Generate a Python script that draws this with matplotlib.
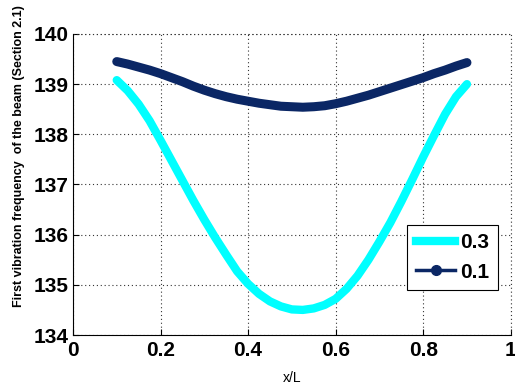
import matplotlib.pyplot as plt
from matplotlib.lines import Line2D

# data
x = [0.100, 0.125, 0.150, 0.175, 0.200, 0.225, 0.250, 0.275, 0.300,
     0.325, 0.350, 0.375, 0.400, 0.425, 0.450, 0.475, 0.500, 0.525,
     0.550, 0.575, 0.600, 0.625, 0.650, 0.675, 0.700, 0.725, 0.750,
     0.775, 0.800, 0.825, 0.850, 0.875, 0.900]
f_03 = [139.08, 138.87, 138.60, 138.27, 137.88, 137.48, 137.08, 136.68, 136.30,
        135.94, 135.60, 135.27, 135.02, 134.82, 134.67, 134.57, 134.51, 134.50,
        134.53, 134.60, 134.72, 134.92, 135.18, 135.50, 135.86, 136.24, 136.66,
        137.10, 137.55, 137.98, 138.40, 138.75, 139.00]
f_01 = [139.45, 139.40, 139.34, 139.28, 139.21, 139.13, 139.05, 138.96, 138.88,
        138.81, 138.75, 138.70, 138.66, 138.62, 138.59, 138.56, 138.55, 138.54,
        138.55, 138.57, 138.61, 138.66, 138.72, 138.78, 138.85, 138.92, 138.99,
        139.06, 139.13, 139.21, 139.28, 139.36, 139.43]
labels = ["0.3", "0.1"]

cyan = '#00ffff'
navy = '#0b2765'
grid_style = dict(linestyle=(0, (1, 2.5)), color='#333333', linewidth=0.8)

plt.rcParams['font.family'] = ['Liberation Sans', 'DejaVu Sans']

fig = plt.figure(figsize=(5.15, 3.84), dpi=100)
ax = fig.add_axes([0.1417, 0.1276, 0.85, 0.7839])

ax.plot(x, f_03, color=cyan, linewidth=6, solid_capstyle='round',
        solid_joinstyle='round')
ax.plot(x, f_01, color=navy, linewidth=6.5, solid_capstyle='round',
        solid_joinstyle='round')

ax.set_xlim(0, 1)
ax.set_ylim(134, 140)
ax.set_xticks([0, 0.2, 0.4, 0.6, 0.8, 1])
ax.set_xticklabels(['0', '0.2', '0.4', '0.6', '0.8', '1'])
ax.set_yticks([134, 135, 136, 137, 138, 139, 140])

for lab in ax.get_xticklabels() + ax.get_yticklabels():
    lab.set_fontsize(15)
    lab.set_fontweight('bold')

ax.tick_params(direction='in', length=4, width=0.8)
ax.tick_params(axis='x', pad=4)
ax.tick_params(axis='y', pad=3)
ax.grid(True, **grid_style)
ax.spines['top'].set_visible(False)
ax.spines['right'].set_visible(False)
# dotted frame lines at top and right like the reference
ax.axhline(140, clip_on=False, **grid_style)
ax.axvline(1, clip_on=False, **grid_style)

ax.set_xlabel('x/L', fontsize=10, labelpad=8)
ax.set_ylabel('First vibration frequency  of the beam (Section 2.1)', fontsize=9,
              fontweight='bold')
ax.yaxis.set_label_coords(-0.11, 0.595)

handles = [Line2D([], [], color=cyan, linewidth=6),
           Line2D([], [], color=navy, linewidth=2.5, marker='o', markersize=7)]
leg = ax.legend(handles, labels, loc='lower right', bbox_to_anchor=(0.971, 0.15),
                prop={'weight': 'bold', 'size': 15}, fancybox=False, framealpha=1,
                edgecolor='black', handlelength=1.9, handletextpad=0.25,
                borderpad=0.4, labelspacing=0.5, borderaxespad=0)
leg.get_frame().set_linewidth(0.8)

plt.savefig('out.png', dpi=100)
